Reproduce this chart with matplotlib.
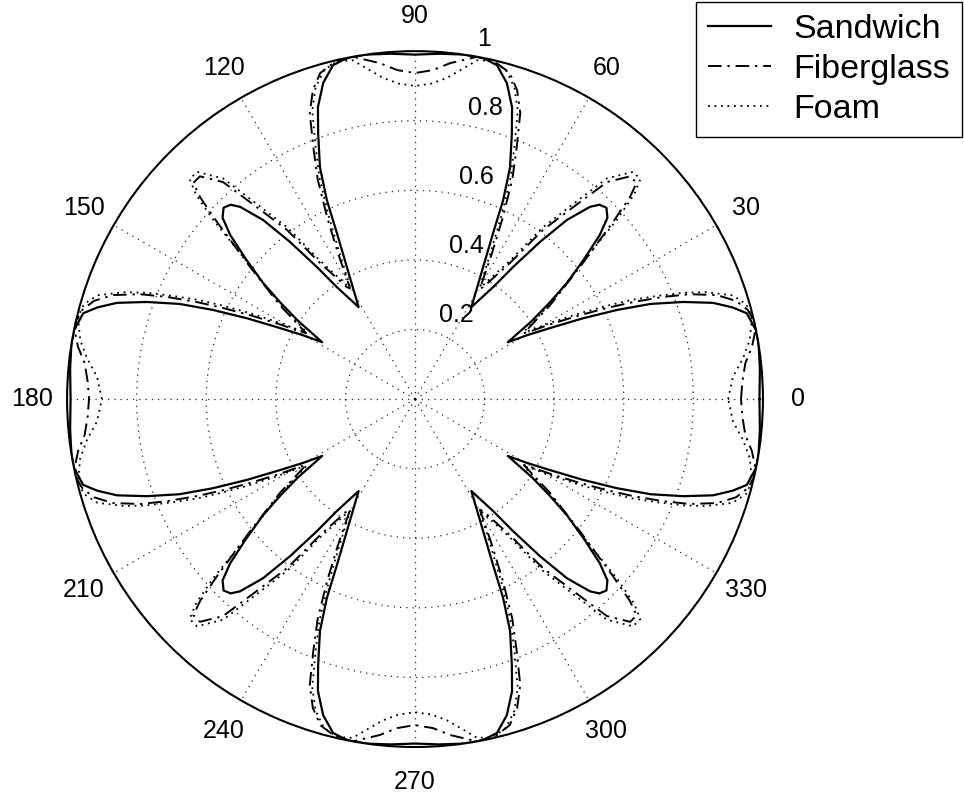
import numpy as np
import matplotlib.pyplot as plt

plt.rcParams['font.family'] = ['Liberation Sans', 'DejaVu Sans']

# first quadrant readings (degrees, normalised amplitude); the pattern is
# mirrored about the 0 and 90 degree axes
sandwich_deg = [0, 5, 9, 11.4, 14.5, 16.1, 17.9, 19.9, 22, 23.8, 25.7, 27.7, 29.7,
                31.5, 33.8, 35.6, 37.4, 39.6, 41.6, 43.3, 45, 46.5, 47.7, 49.7,
                51.5, 53.4, 55.1, 58.5, 62.7, 64.8, 66.1, 67.7, 70, 71.6, 73.8,
                76.2, 78.8, 82, 86, 90]
sandwich_r = [0.99, 0.995, 1.0, 1.0, 0.985, 0.95, 0.90, 0.82, 0.73, 0.635, 0.535,
              0.44, 0.37, 0.313, 0.405, 0.475, 0.55, 0.63, 0.71, 0.76, 0.778,
              0.77, 0.747, 0.675, 0.577, 0.473, 0.392, 0.31, 0.427, 0.527, 0.625,
              0.72, 0.814, 0.884, 0.946, 0.988, 1.0, 1.0, 0.995, 0.99]

fiber_deg = [0, 3, 6.2, 8.8, 11, 13, 15, 17, 19, 20.9, 22.4, 24, 25.4, 27, 28.8,
             30.4, 31.2, 34.8, 38.7, 41.8, 43.2, 44.3, 46, 48.5, 50.5, 52.9, 55.1,
             58.7, 59.6, 62.2, 64.2, 66.1, 68, 69.8, 71.7, 73.8, 76.5, 79.7, 84,
             86.9, 90]
fiber_r = [0.937, 0.942, 0.955, 0.98, 0.995, 1.0, 0.99, 0.965, 0.918, 0.845, 0.77,
           0.685, 0.61, 0.53, 0.45, 0.385, 0.366, 0.473, 0.607, 0.763, 0.847,
           0.89, 0.89, 0.833, 0.715, 0.609, 0.477, 0.376, 0.369, 0.475, 0.58,
           0.69, 0.78, 0.876, 0.935, 0.976, 0.995, 1.0, 0.971, 0.947, 0.937]

foam_deg = [0, 4, 7.1, 10, 13.7, 16, 18.1, 20.2, 21.6, 23, 24.6, 26, 27.6, 29.3,
            31, 31.8, 35.3, 39.1, 41.6, 43, 44.3, 46.2, 49, 51, 53.4, 55.6, 59.2,
            59.9, 62.8, 64.8, 66.7, 68.6, 70.4, 72.3, 74.5, 77, 79.6, 81.7, 84.3,
            87, 90]
foam_r = [0.90, 0.916, 0.95, 0.977, 0.997, 0.99, 0.96, 0.89, 0.83, 0.76, 0.685,
          0.61, 0.53, 0.45, 0.38, 0.37, 0.48, 0.615, 0.775, 0.86, 0.905, 0.905,
          0.84, 0.72, 0.612, 0.48, 0.38, 0.372, 0.478, 0.585, 0.695, 0.785, 0.88,
          0.94, 0.98, 0.997, 0.99, 0.96, 0.928, 0.908, 0.90]

labels = ['Sandwich', 'Fiberglass', 'Foam']
ring_ticks = [0.2, 0.4, 0.6, 0.8, 1.0]
ring_labels = ['0.2', '0.4', '0.6', '0.8', '1']
angle_ticks = list(range(0, 360, 30))


def full_turn(deg, r):
    d = np.array(deg, dtype=float)
    v = np.array(r, dtype=float)
    th = np.concatenate([d, 180 - d[::-1], 180 + d, 360 - d[::-1], d[:1]])
    rr = np.concatenate([v, v[::-1], v, v[::-1], v[:1]])
    return np.deg2rad(th), rr


fig = plt.figure(figsize=(9.64, 7.98), dpi=100)
ax = fig.add_axes([0.0695, 0.0639, 0.722, 0.872], projection='polar')

t, r = full_turn(sandwich_deg, sandwich_r)
ax.plot(t, r, color='k', lw=1.6, ls='-', label=labels[0])
t, r = full_turn(fiber_deg, fiber_r)
ax.plot(t, r, color='k', lw=1.4, ls=(0, (7, 3, 1.2, 3)), label=labels[1])
t, r = full_turn(foam_deg, foam_r)
ax.plot(t, r, color='k', lw=1.3, ls=(0, (1, 2.6)), label=labels[2])

ax.set_ylim(0, 1)
ax.set_yticks(ring_ticks[:-1])
ax.set_yticklabels([])
ax.set_xticks(np.deg2rad(angle_ticks))
ax.set_xticklabels([])
ax.grid(True, color='k', ls=(0, (1, 4)), lw=0.9, alpha=0.85)
ax.spines['polar'].set_linewidth(1.5)

for v, s in zip(ring_ticks, ring_labels):
    ax.text(np.deg2rad(82), v + 0.01, '  ' + s, ha='left', va='bottom', fontsize=18)
for a in angle_ticks:
    ax.text(np.deg2rad(a), 1.1, str(a), ha='center', va='center', fontsize=18)

leg = fig.legend(loc='upper right', bbox_to_anchor=(962 / 964, 1 - 2 / 798),
                 fontsize=24.5, fancybox=False, edgecolor='k', framealpha=1,
                 borderaxespad=0, handlelength=1.85, handletextpad=0.65,
                 labelspacing=0.26, borderpad=0.35)
leg.get_frame().set_linewidth(1.0)

fig.savefig('out.png', dpi=100)
